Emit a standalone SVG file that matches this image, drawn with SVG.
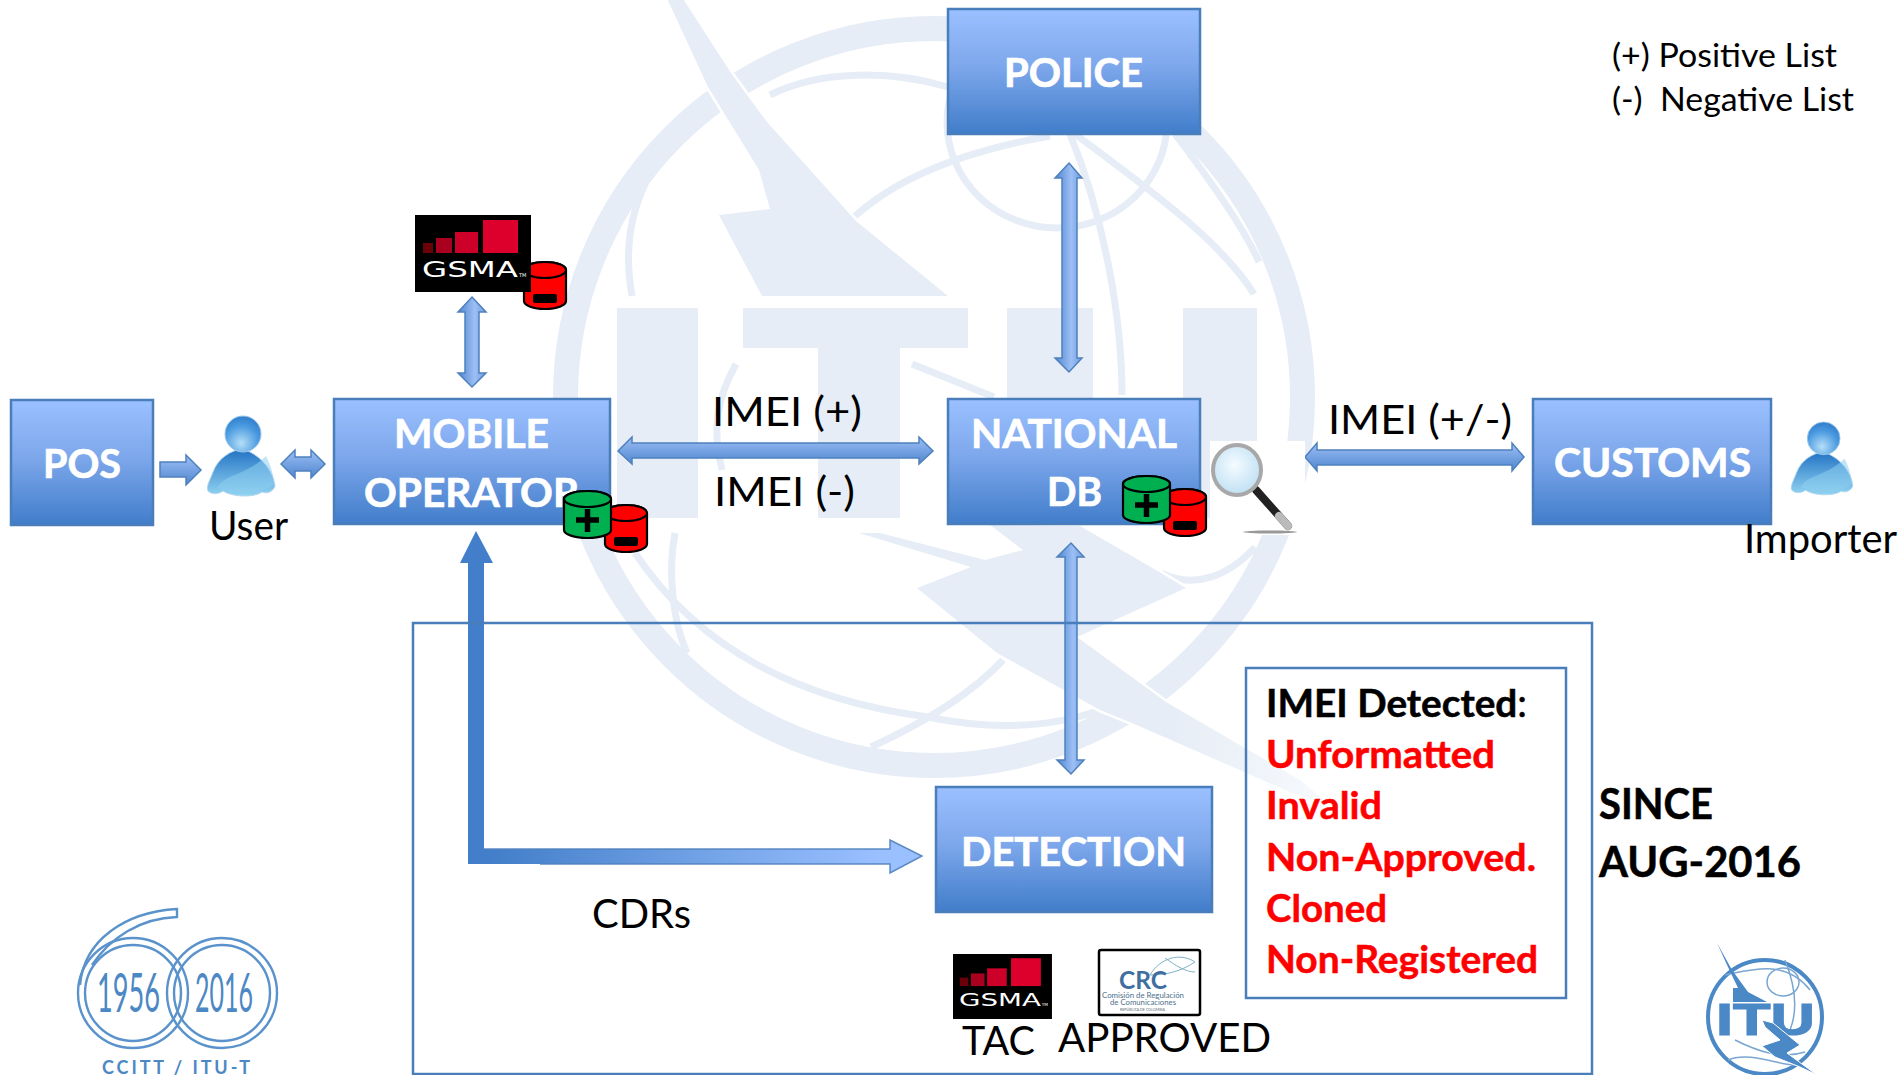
<svg xmlns="http://www.w3.org/2000/svg" xmlns:xlink="http://www.w3.org/1999/xlink" width="1901" height="1075" viewBox="0 0 1901 1075">
<style>
text{font-family:Lato,"Liberation Sans",sans-serif}
.box{fill:url(#boxG);stroke:#4a7ebb;stroke-width:2.5}
.nl{fill:#fff;stroke:#fff;stroke-width:.7;font-weight:700;font-size:40px}
.lb{fill:#000;font-size:41px}
.lg{fill:#000;font-size:32px}
.dt{fill:#f00;stroke:#f00;stroke-width:.5;font-weight:700;font-size:38px}
.st{fill:#000;stroke:#000;stroke-width:.5;font-weight:700;font-size:42px}
.arH{fill:url(#arV);stroke:#4f81bd;stroke-width:1.5}
.arVv{fill:url(#arH);stroke:#4f81bd;stroke-width:1.5}
.wm{fill:#e6edf6}
.wmb{fill:#e6edf6;stroke:#fff;stroke-width:5;paint-order:stroke}
.wl{fill:none;stroke:#e6edf6;stroke-width:7}
.fr{fill:none;stroke:#4a7ebb;stroke-width:2.5}
.lo{fill:none;stroke:#5a93cb;stroke-width:2.4}
.lt{fill:#4c88c4}
.cy{stroke:#000;stroke-width:2.2}
.gs{fill:#fff;font-family:"DejaVu Sans",sans-serif;font-weight:400}
</style>
<defs>
<linearGradient id="boxG" x1="0" y1="0" x2="0" y2="1"><stop offset="0" stop-color="#9ac0ff"/><stop offset=".45" stop-color="#7ea8ec"/><stop offset="1" stop-color="#417dca"/></linearGradient>
<linearGradient id="arV" x1="0" y1="0" x2="0" y2="1"><stop offset="0" stop-color="#9dbff5"/><stop offset="1" stop-color="#4f86d0"/></linearGradient>
<linearGradient id="arH" x1="0" y1="0" x2="1" y2="0"><stop offset="0" stop-color="#4f86d0"/><stop offset=".6" stop-color="#9dbff5"/><stop offset="1" stop-color="#6e9ce0"/></linearGradient>
<linearGradient id="lG" gradientUnits="userSpaceOnUse" x1="490" y1="0" x2="880" y2="0"><stop offset="0" stop-color="#427ec9"/><stop offset="1" stop-color="#9ac0ff"/></linearGradient>
<linearGradient id="tail" gradientUnits="userSpaceOnUse" x1="1170" y1="0" x2="1335" y2="0"><stop offset="0" stop-color="#e6edf6"/><stop offset="1" stop-color="#f8fafd"/></linearGradient>
<radialGradient id="hd" cx=".45" cy=".75" r=".8"><stop offset="0" stop-color="#b5def8"/><stop offset=".6" stop-color="#4a9ae0"/><stop offset="1" stop-color="#2b78c8"/></radialGradient>
<linearGradient id="bd" x1="0" y1="0" x2="0" y2="1"><stop offset="0" stop-color="#2272c4"/><stop offset="1" stop-color="#92d4f2"/></linearGradient>
<radialGradient id="ln" cx=".45" cy=".4" r=".7"><stop offset="0" stop-color="#f4fbff"/><stop offset="1" stop-color="#b7dcf2"/></radialGradient>
<g id="person">
<path d="M37 33C25 34 12 42 7 56 3 66 0 71 2 75 6 79 13 78 17 75 26 81 48 82 56 76 61 78 67 76 69 70 68 60 60 41 37 33Z" fill="url(#bd)" stroke="#b7d7ee" stroke-width="1"/>
<path d="M12 72C17 58 40 60 60 40 66 52 68 62 68 68 60 76 30 80 12 72Z" fill="#8ed0f0" opacity=".55"/>
<ellipse cx="37" cy="18" rx="18" ry="18" fill="url(#hd)" stroke="#9cc8ea" stroke-width="1"/>
</g>
<g id="cylR">
<path class="cy" fill="#f00" d="M1 9V40A21 8 0 0 0 43 40V9A21 8 0 0 0 1 9Z"/>
<ellipse class="cy" fill="#f00" cx="22" cy="9" rx="21" ry="8"/>
<rect x="10" y="33" width="24" height="9" rx="2" fill="#000"/>
</g>
<g id="cylG">
<path class="cy" fill="#00b050" d="M1 9V40A23.500 8 0 0 0 48 40V9A23.500 8 0 0 0 1 9Z"/>
<ellipse class="cy" fill="#00b050" cx="24.500" cy="9" rx="23.500" ry="8"/>
<path d="M13 30H36M24.500 19V42" stroke="#000" stroke-width="5.500" fill="none"/>
</g>
<g id="gsmaBars">
<rect x="0" y="0" width="116" height="77" fill="#000"/>
<rect x="8" y="28" width="10" height="10" fill="#6a0008"/>
<rect x="21" y="23" width="16" height="15" fill="#a8001e"/>
<rect x="40" y="17" width="23" height="21" fill="#cc0028"/>
<rect x="68" y="5" width="35" height="33" fill="#dd002c"/>
<text class="gs" x="7" y="62" font-size="21" textLength="96" lengthAdjust="spacingAndGlyphs">GSMA</text>
<text class="gs" x="104" y="62" font-size="5">TM</text>
</g>
</defs>

<rect width="1901" height="1075" fill="#fff"/>

<g id="watermark">
<circle cx="934" cy="397" r="368.500" fill="none" stroke="#e6edf6" stroke-width="25"/>
<ellipse class="wl" cx="1057" cy="122" rx="110" ry="106"/>
<path class="wl" d="M632 296C622 240 628 180 708 95"/>
<path class="wl" d="M770 95C820 70 890 70 948 87"/>
<path class="wl" d="M854 217C900 175 970 150 1050 136"/>
<path class="wl" d="M1075 134C1150 190 1220 240 1254 294"/>
<path class="wl" d="M1070 134C1105 220 1122 320 1122 395"/>
<path class="wl" d="M1175 134C1210 180 1245 230 1259 262"/>
<path class="wl" d="M912 364L994 397"/>
<path class="wl" d="M736 364C716 400 712 430 722 470"/>
<path class="wl" d="M675 533C668 570 672 620 687 653"/>
<path class="wl" d="M635 553C700 650 800 700 928 717 975 727 1040 732 1100 710"/>
<path class="wl" d="M871 747C930 720 975 690 1003 660"/>
<path class="wl" d="M1255 547C1230 575 1195 590 1161 573"/>
<rect class="wm" x="617" y="308" width="81" height="210"/>
<path class="wm" d="M743 308H968V348H900V518H818V348H743Z"/>
<path class="wm" d="M1007 308H1093V450C1093 485 1110 518 1130 518 1170 518 1183 480 1183 450V308H1257V518H1007Z"/>
<polygon class="wmb" points="665,-6 680,-6 731,73 767,122 856,221 948,296 762,296 719,215 770,209 759,170 708,87"/>
<polygon class="wmb" style="fill:url(#tail)" points="859,533 880,533 985,560 1023,550 990,525 1080,526 1161,573 1186,588 1077,637 1140,683 1166,702 1300,780 1330,805 1290,792 1132,723 1100,710 997,653 917,588 971,567"/>
</g>

<g id="connectors">
<polygon class="arVv" points="1069,163 1082,178 1077,178 1077,358 1082,358 1069,372 1055,358 1062,358 1062,178 1055,178"/>
<polygon class="arH" points="618,451 632,437 632,443 919,443 919,437 933,451 919,464 919,458 632,458 632,464"/>
<polygon class="arH" points="1305,457 1317,443 1317,450 1512,450 1512,443 1524,457 1512,471 1512,465 1317,465 1317,471"/>
<polygon class="arVv" points="1071,543 1084,557 1077,557 1077,760 1084,760 1071,774 1057,760 1065,760 1065,557 1057,557"/>
<polygon class="arVv" points="472,297 486,312 479,312 479,373 486,373 472,387 458,373 465,373 465,312 458,312"/>
<polygon class="arH" points="160,462 186,462 186,455 201,470 186,485 186,477 160,477"/>
<polygon class="arH" points="281,464 295,450 295,457 311,457 311,450 325,464 311,478 311,471 295,471 295,478"/>
<path d="M468 864V563H460L476 531 493 563H484V849H890V840L922 856 890 873V864Z" fill="url(#lG)"/>
<path d="M484 849H890V840L922 856 890 873V864H540" fill="none" stroke="#4f81bd" stroke-width="1.500" stroke-opacity=".9"/>
</g>

<g id="frame-detection"><rect class="fr" x="413" y="623" width="1179" height="451"/></g>

<g id="pos"><rect class="box" x="11" y="400" width="142" height="125"/><text class="nl" x="43" y="478" textLength="78" lengthAdjust="spacingAndGlyphs">POS</text></g>
<g id="user"><use href="#person" x="206" y="416"/><text class="lb" x="209" y="540" textLength="79" lengthAdjust="spacingAndGlyphs">User</text></g>
<g id="mobile-operator"><rect class="box" x="334" y="399" width="276" height="125"/>
<text class="nl" x="394" y="448" textLength="155" lengthAdjust="spacingAndGlyphs">MOBILE</text>
<text class="nl" x="364" y="507" textLength="215" lengthAdjust="spacingAndGlyphs">OPERATOR</text>
<use href="#cylR" x="604" y="504"/><use href="#cylG" x="563" y="490"/></g>
<g id="gsma-top"><use href="#cylR" x="523" y="261"/><use href="#gsmaBars" x="415" y="215"/></g>
<g id="police"><rect class="box" x="948" y="9" width="252" height="125"/><text class="nl" x="1004" y="87" textLength="139" lengthAdjust="spacingAndGlyphs">POLICE</text></g>
<g id="national-db"><rect class="box" x="948" y="399" width="252" height="125"/>
<text class="nl" x="971" y="448" textLength="206" lengthAdjust="spacingAndGlyphs">NATIONAL</text>
<text class="nl" x="1047" y="506" textLength="55" lengthAdjust="spacingAndGlyphs">DB</text>
<use href="#cylR" x="1163" y="488"/><use href="#cylG" x="1122" y="475"/></g>
<g id="magnifier"><rect x="1210" y="441" width="95" height="94" fill="#fff"/>
<ellipse cx="1270" cy="532" rx="27" ry="1.500" fill="#999"/>
<path d="M1256 490L1288 526" stroke="#222" stroke-width="8" stroke-linecap="round"/>
<path d="M1279 516L1288 526" stroke="#bbb" stroke-width="8" stroke-linecap="round"/>
<ellipse cx="1237" cy="470" rx="24" ry="25" fill="url(#ln)" stroke="#a8a8a8" stroke-width="4"/></g>
<g id="customs"><rect class="box" x="1533" y="399" width="238" height="125"/><text class="nl" x="1554" y="477" textLength="197" lengthAdjust="spacingAndGlyphs">CUSTOMS</text></g>
<g id="importer"><use href="#person" transform="translate(1790 422) scale(.91)"/><text class="lb" x="1744" y="553" textLength="153" lengthAdjust="spacingAndGlyphs">Importer</text></g>
<g id="detection"><rect class="box" x="936" y="787" width="276" height="125"/><text class="nl" x="961" y="866" textLength="225" lengthAdjust="spacingAndGlyphs">DETECTION</text></g>

<g id="labels">
<text class="lb" x="712" y="426" textLength="150" lengthAdjust="spacingAndGlyphs">IMEI (+)</text>
<text class="lb" x="714" y="506" textLength="141" lengthAdjust="spacingAndGlyphs">IMEI (-)</text>
<text class="lb" x="1328" y="434" textLength="184" lengthAdjust="spacingAndGlyphs">IMEI (+/-)</text>
<text class="lb" x="592" y="928" textLength="99" lengthAdjust="spacingAndGlyphs">CDRs</text>
<text class="lg" x="1612" y="67" textLength="225" lengthAdjust="spacingAndGlyphs">(+) Positive List</text>
<text class="lg" x="1612" y="111" textLength="242" lengthAdjust="spacingAndGlyphs" xml:space="preserve">(-)  Negative List</text>
<text class="st" x="1599" y="819" textLength="114" lengthAdjust="spacingAndGlyphs">SINCE</text>
<text class="st" x="1599" y="877" textLength="202" lengthAdjust="spacingAndGlyphs">AUG-2016</text>
</g>

<g id="imei-detected"><rect class="fr" x="1246" y="668" width="320" height="330"/>
<text x="1266" y="717" font-size="38" fill="#000" stroke="#000" stroke-width=".5" font-weight="700" textLength="261" lengthAdjust="spacingAndGlyphs">IMEI Detected<tspan font-weight="400">:</tspan></text>
<text class="dt" x="1266" y="768" textLength="229" lengthAdjust="spacingAndGlyphs">Unformatted</text>
<text class="dt" x="1266" y="819" textLength="116" lengthAdjust="spacingAndGlyphs">Invalid</text>
<text class="dt" x="1266" y="871" textLength="270" lengthAdjust="spacingAndGlyphs">Non-Approved.</text>
<text class="dt" x="1266" y="922" textLength="121" lengthAdjust="spacingAndGlyphs">Cloned</text>
<text class="dt" x="1266" y="973" textLength="272" lengthAdjust="spacingAndGlyphs">Non-Registered</text>
</g>

<g id="gsma-tac"><use href="#gsmaBars" transform="translate(953 954) scale(.853 .844)"/>
<text class="lb" x="962" y="1055" textLength="73" lengthAdjust="spacingAndGlyphs">TAC</text></g>
<g id="crc-approved"><rect x="1099" y="950" width="101" height="65" rx="2" fill="#fff" stroke="#000" stroke-width="2.500"/>
<path d="M1150 975C1160 958 1180 952 1195 962 1180 972 1165 975 1150 975ZM1165 958C1175 965 1185 972 1195 972" fill="none" stroke="#7fb0c8" stroke-width="1"/>
<text x="1119" y="989" font-size="25" font-weight="700" fill="#3f6f9f" textLength="48" lengthAdjust="spacingAndGlyphs">CRC</text>
<text x="1102" y="998" font-size="7.500" fill="#4d6f8c" textLength="82" lengthAdjust="spacingAndGlyphs">Comisión de Regulación</text>
<text x="1110" y="1005" font-size="7.500" fill="#4d6f8c" textLength="66" lengthAdjust="spacingAndGlyphs">de Comunicaciones</text>
<text x="1120" y="1011" font-size="4" fill="#5a6a78" textLength="45" lengthAdjust="spacingAndGlyphs">REPÚBLICA DE COLOMBIA</text>
<text class="lb" x="1058" y="1052" textLength="213" lengthAdjust="spacingAndGlyphs">APPROVED</text></g>

<g id="logo-60">
<circle class="lo" cx="133" cy="993" r="55"/><circle class="lo" cx="133" cy="993" r="48"/>
<circle class="lo" cx="222" cy="993" r="55"/><circle class="lo" cx="222" cy="993" r="48"/>
<path class="lo" d="M80 985C84 940 125 912 177 909V917C140 918 110 938 92 965"/>
<text class="lt" x="97" y="1012" font-size="55" textLength="63" lengthAdjust="spacingAndGlyphs">1956</text>
<text class="lt" x="195" y="1012" font-size="55" textLength="58" lengthAdjust="spacingAndGlyphs">2016</text>
<text class="lt" x="102" y="1074" font-size="18" font-weight="700" textLength="148" lengthAdjust="spacing">CCITT / ITU-T</text>
</g>
<g id="logo-itu">
<circle cx="1765" cy="1017" r="57" fill="none" stroke="#4a88c6" stroke-width="4"/>
<ellipse cx="1783" cy="982" rx="16" ry="14" fill="none" stroke="#7aa6d2" stroke-width="1.500"/>
<path d="M1725 975C1750 970 1785 958 1810 990M1785 960C1795 985 1798 1010 1790 1030M1728 1060C1750 1050 1785 1068 1800 1065M1735 1040C1755 1050 1780 1060 1805 1052" fill="none" stroke="#7aa6d2" stroke-width="1.500"/>
<polygon fill="#4a88c6" points="1717,943 1732,970 1748,992 1767,1002 1733,1002 1733,988 1738,988 1728,967"/>
<text x="1716" y="1035" font-size="45" font-weight="700" fill="#4a88c6" stroke="#4a88c6" stroke-width="1.200" textLength="99" lengthAdjust="spacingAndGlyphs" style="font-family:'Liberation Sans',sans-serif">ITU</text>
<polygon fill="#4a88c6" stroke="#fff" stroke-width="1" points="1762,1020 1773,1023 1800,1045 1787,1053 1817,1075 1800,1067 1775,1057 1762,1046 1780,1040 1765,1027"/>
</g>
</svg>
